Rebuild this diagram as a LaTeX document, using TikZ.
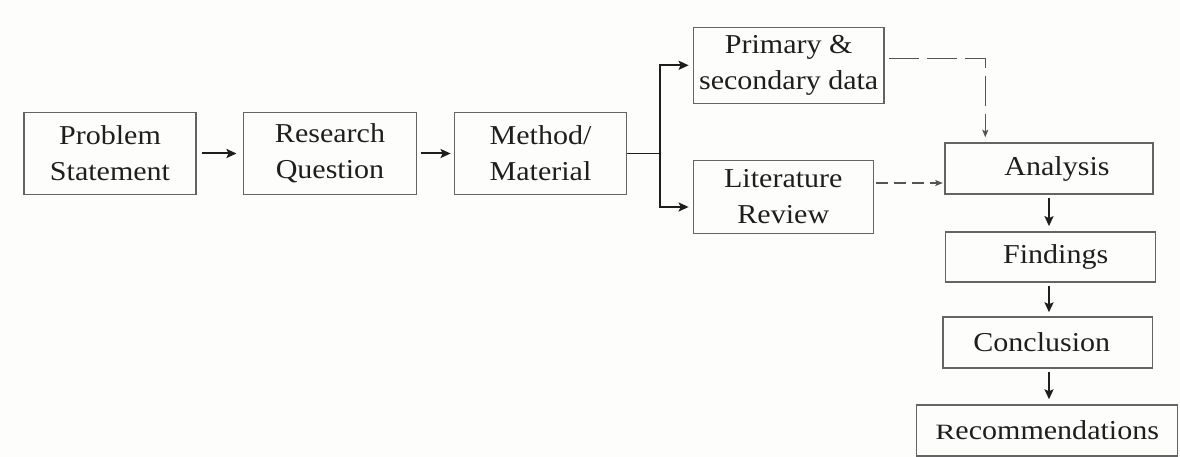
\documentclass[tikz,border=0pt]{standalone}
\usepackage{fontspec}
\setmainfont{Liberation Serif}[FakeStretch=1.1]
\usetikzlibrary{arrows.meta,calc}

\definecolor{paper}{RGB}{253,253,251}
\definecolor{boxline}{RGB}{100,100,100}
\definecolor{ink}{RGB}{30,30,30}
\definecolor{dashink}{RGB}{85,85,85}

\tikzset{
  stage/.style={draw=boxline, line width=1.4pt, inner sep=0pt, text=ink,
    align=center, font=\fontsize{27.3}{36}\selectfont},
  flow/.style={draw=ink, line width=2pt, -{Stealth[length=10pt,width=9pt,inset=2pt]}},
  joint/.style={draw=ink, line width=1.4pt},
  dashflow/.style={draw=dashink, line width=1.3pt, -{Stealth[length=7.5pt,width=6pt,inset=1.5pt]}},
}

\begin{document}
\begin{tikzpicture}[x=1pt,y=-1pt]
  \fill[paper] (0,0) rectangle (1180,457);
  \useasboundingbox (0,0) rectangle (1180,457);

  % main chain
  \node[stage, minimum width=172pt, minimum height=81.6pt] (ps) at (110,153.5) {Problem\\Statement};
  \node[stage, minimum width=172.6pt, minimum height=81.6pt] (rq) at (330,153.5) {Research\\Question};
  \node[stage, minimum width=172.4pt, minimum height=81.6pt] (mm) at (540.5,153.5) {Method/\\Material};

  % sources
  \node[stage, minimum width=190.7pt, minimum height=76pt] (pd) at (788.7,65.3) {Primary \&\\secondary data};
  \node[stage, minimum width=180pt, minimum height=72.6pt] (lr) at (783.3,197) {Literature\\Review};

  % right column
  \node[stage, minimum width=208pt, minimum height=51pt] (an) at (1049,168.5) {\hspace*{16pt}Analysis};
  \node[stage, minimum width=210pt, minimum height=50.3pt] (fi) at (1050.7,257) {\hspace*{10pt}Findings};
  \node[stage, minimum width=209.7pt, minimum height=51pt] (co) at (1047.8,342.5) {Conclusion\hspace*{12pt}};
  \node[stage, minimum width=261pt, minimum height=51pt] (re) at (1047.2,430.5) {\scalebox{1}[0.8]{R}ecommendations};

  % horizontal arrows
  \draw[flow, shorten <=5pt, shorten >=6.5pt] (ps) -- (rq);
  \draw[flow, shorten <=3.5pt, shorten >=3pt] (rq) -- (mm);

  % branch to the two sources
  \draw[joint] (mm.east) -- ++(32.3,0) coordinate (br);
  \draw[flow, shorten >=4pt] (br) |- (pd.west);
  \draw[flow, shorten >=4pt] (br) |- ($(lr.west)+(0,10)$);

  % dashed feeds into the analysis
  \coordinate (d0) at ($(pd.east)+(4,-7)$);
  \draw[dashflow, dash pattern=on 30pt off 8pt, shorten >=5pt] (d0) -| ($(an.north west)+(41,0)$);
  \coordinate (d1) at ($(lr.east)+(2,-14)$);
  \draw[dashflow, dash pattern=on 12pt off 6pt, shorten >=1.5pt] (d1) -- (d1 -| an.west);

  % downward chain
  \draw[flow, shorten <=3pt, shorten >=5pt] (an.south) -- (an.south |- fi.north);
  \draw[flow, shorten <=3pt, shorten >=4pt] (an.south |- fi.south) -- (an.south |- co.north);
  \draw[flow, shorten <=3.5pt, shorten >=5pt] (an.south |- co.south) -- (an.south |- re.north);
\end{tikzpicture}
\end{document}
